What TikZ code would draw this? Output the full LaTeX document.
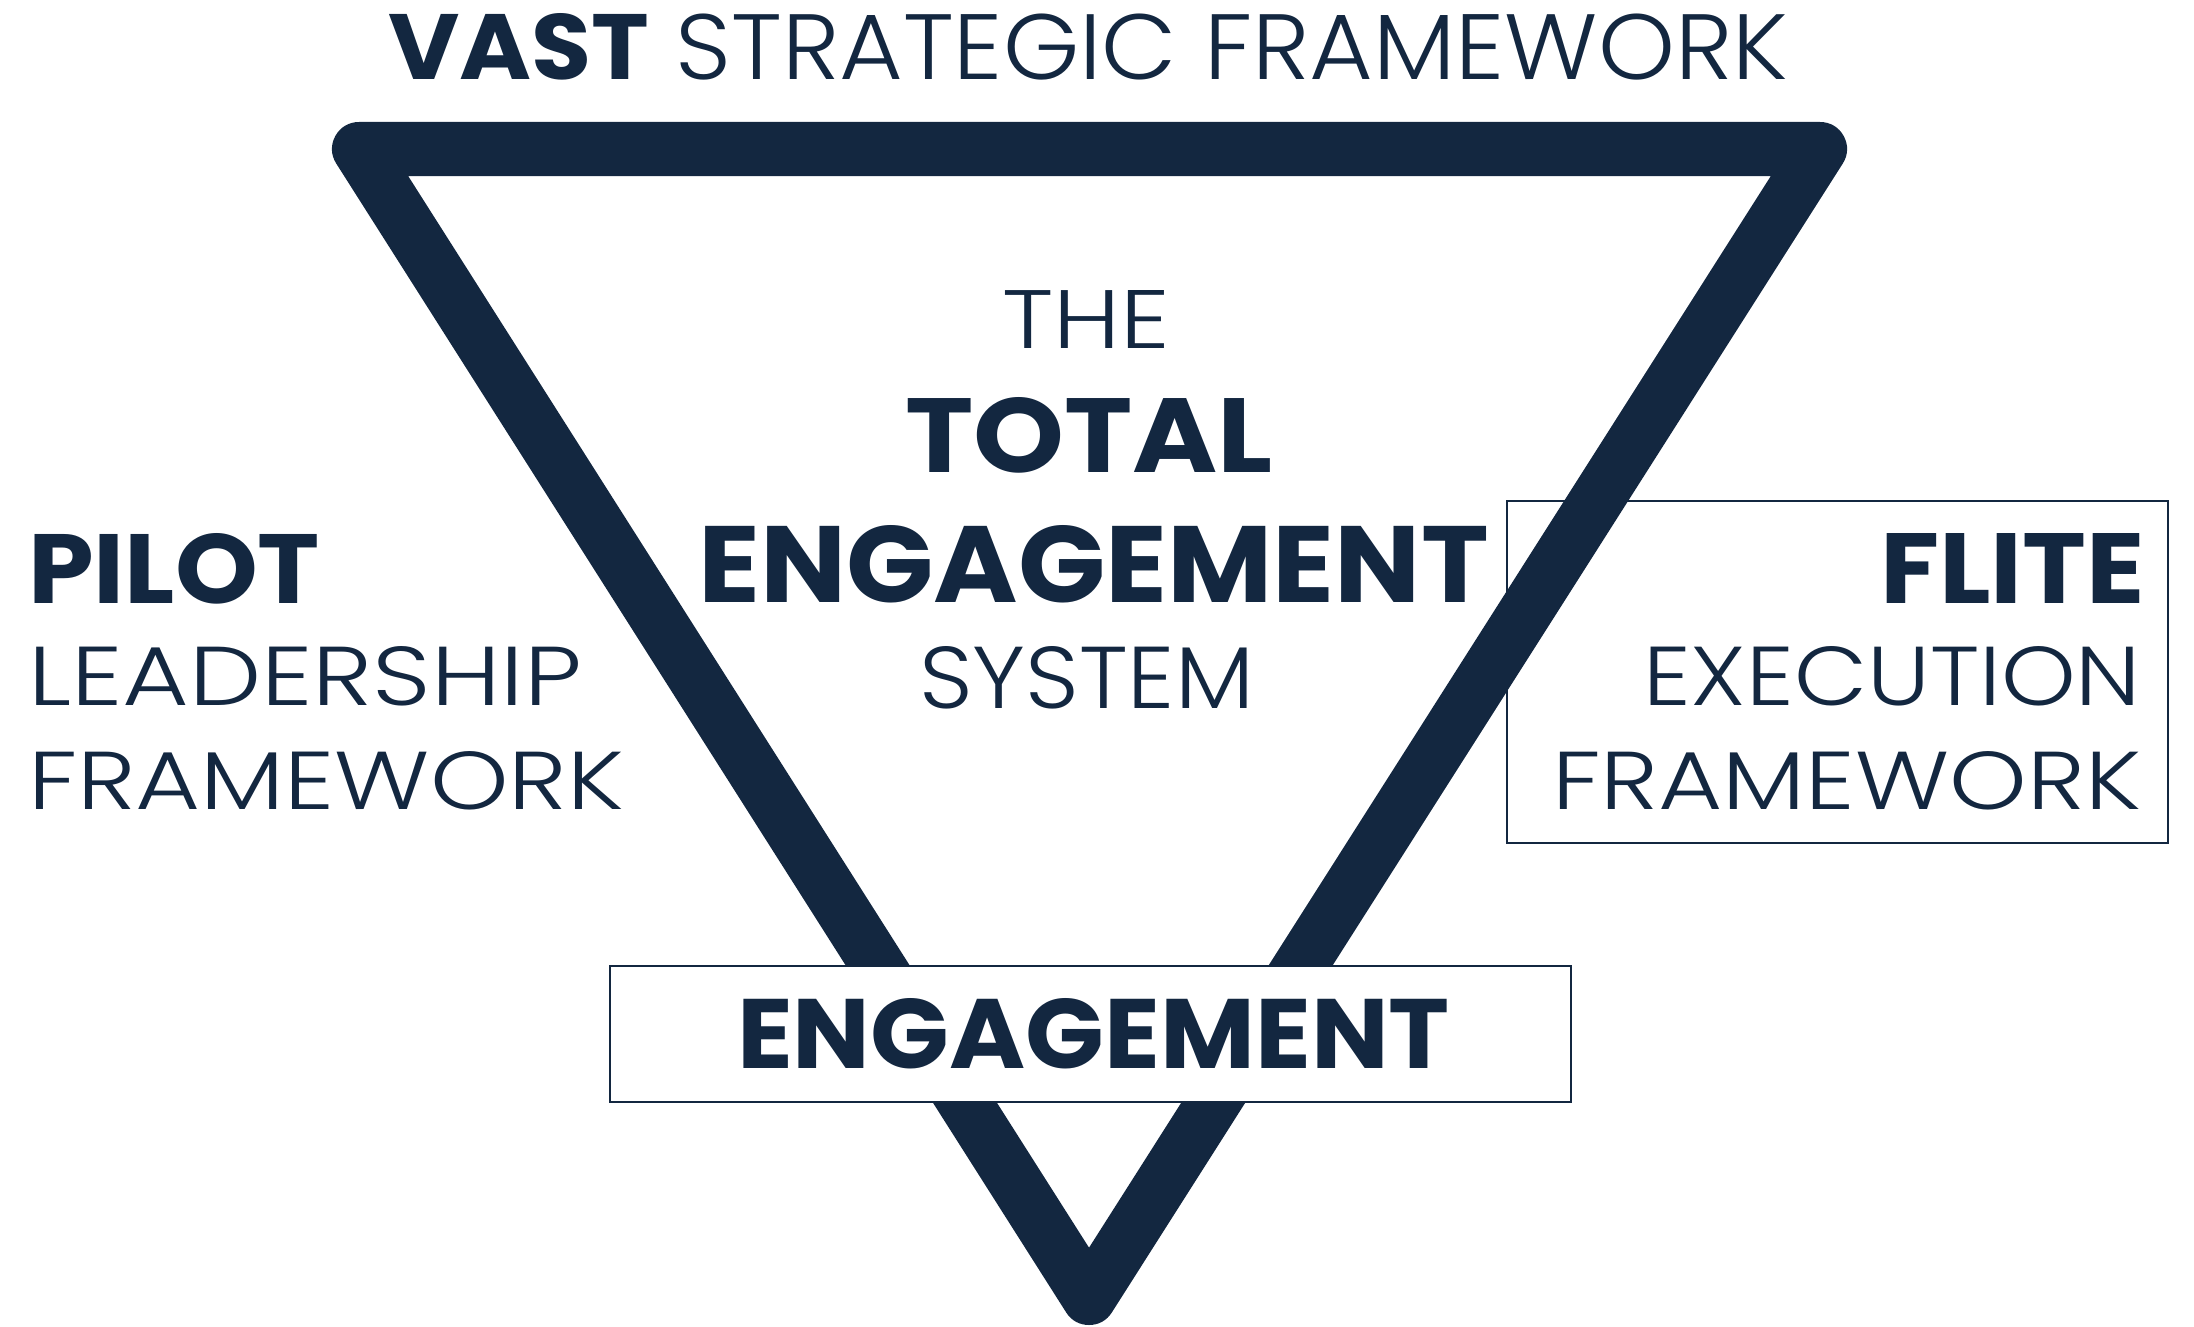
\documentclass[tikz,border=0pt]{standalone}
\usepackage{fontspec}
\setmainfont{Poppins}
\newfontfamily\thinfont{Poppins Light}
\usepackage{graphicx}
\definecolor{navy}{HTML}{132740}
\newlength\pxu
\setlength\pxu{0.5pt}
\newcommand{\fittext}[3]{\resizebox{#1\pxu}{#2\pxu}{#3}}
\begin{document}
\begin{tikzpicture}[x=0.5pt,y=-0.5pt,
  lbl/.style={inner sep=0pt,outer sep=0pt,anchor=base west,text=navy},
  framebox/.style={draw=navy,line width=1.1pt,fill=white},
  tri/.style={draw=navy,line width=27pt,line join=round}]
\useasboundingbox (0,0) rectangle (2194,1327);
\fill[white] (0,0) rectangle (2194,1327);
% FLITE box (behind the triangle)
\node[framebox,anchor=north west,minimum width=661\pxu,minimum height=342\pxu,inner sep=0pt] (flitebox) at (1506,500) {};
% triangle
\coordinate (tl) at (359,149);
\coordinate (tr) at (1820,149);
\coordinate (tb) at (1089,1298);
\draw[tri] (tl) -- (tr) -- (tb) -- cycle;
% ENGAGEMENT box (over the triangle)
\node[framebox,anchor=north west,minimum width=961\pxu,minimum height=136\pxu,inner sep=0pt] (engbox) at (609,965) {};
% texts
\node[lbl] (title) at (388,80) {\fittext{1400}{66}{{\bfseries VAST} {\mdseries\thinfont STRATEGIC FRAMEWORK}}};
\node[lbl] (the) at (1002,348) {\fittext{168}{58}{\thinfont THE}};
\node[lbl] (total) at (905,472) {\fittext{368}{75}{\bfseries TOTAL}};
\node[lbl] (engage) at (698,602) {\fittext{791}{77}{\bfseries ENGAGEMENT}};
\node[lbl] (system) at (919,708) {\fittext{335}{62}{\thinfont SYSTEM}};
\node[lbl] (pilot) at (28,603) {\fittext{292}{70}{\bfseries PILOT}};
\node[lbl] (lead) at (28,705) {\fittext{554}{59}{\thinfont LEADERSHIP}};
\node[lbl] (fwl) at (28,809) {\fittext{596}{58}{\thinfont FRAMEWORK}};
\node[lbl] (flite) at (1880,603) {\fittext{265}{70}{\bfseries FLITE}};
\node[lbl] (exec) at (1643,705) {\fittext{498}{59}{\thinfont EXECUTION}};
\node[lbl] (fwr) at (1552,809) {\fittext{589}{58}{\thinfont FRAMEWORK}};
\node[lbl] (engtxt) at (737,1068) {\fittext{713}{70}{\bfseries ENGAGEMENT}};
\end{tikzpicture}
\end{document}
